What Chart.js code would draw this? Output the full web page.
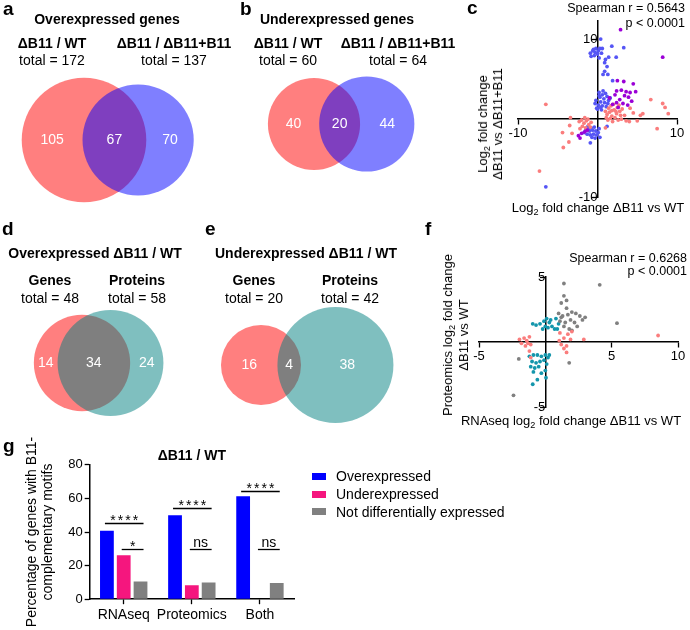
<!DOCTYPE html>
<html>
<head>
<meta charset="utf-8">
<script src="https://cdn.jsdelivr.net/npm/chart.js@4.4.1/dist/chart.umd.min.js"></script>
<style>
body { margin: 0; background: #fff; }
#fig { position: relative; width: 690px; height: 630px; overflow: hidden; font-family: Arial, "Liberation Sans", sans-serif; color: #000; }
canvas { position: absolute; }
.t { position: absolute; white-space: nowrap; line-height: 1; }
.v { position: absolute; white-space: nowrap; text-align: center; transform: translate(-50%, -50%) rotate(-90deg); }
sub { font-size: 0.7em; line-height: 0; vertical-align: -0.3em; }
</style>
</head>
<body>
<div id="fig">
  <canvas id="venn" width="460" height="430" style="left:0;top:0"></canvas>
  <canvas id="scC" width="220" height="200" style="left:470px;top:10px"></canvas>
  <canvas id="scF" width="230" height="175" style="left:460px;top:250px"></canvas>
  <canvas id="bars" width="300" height="230" style="left:0;top:400px"></canvas>
</div>
<script>
// ---- data ----
// venn panels a, b, d, e
const vennTitles = ['Overexpressed genes', 'Underexpressed genes', 'Overexpressed ΔB11 / WT', 'Underexpressed ΔB11 / WT'];
const vennLeftNames = ['ΔB11 / WT', 'ΔB11 / WT', 'Genes', 'Genes'];
const vennRightNames = ['ΔB11 / ΔB11+B11', 'ΔB11 / ΔB11+B11', 'Proteins', 'Proteins'];
const vennLeftTotal = [172, 60, 48, 20];
const vennRightTotal = [137, 64, 58, 42];
const vennOverlap = [67, 20, 34, 4];

// panel c: log2 FC dB11 vs WT (x) against dB11 vs dB11+B11 (y)
const cBlue = [[0.4,10.1],[-0.9,8.3],[-0.6,8.6],[-0.2,8.9],[0.1,8.6],[0.3,8.9],[-0.4,8.0],[-0.8,7.9],[0.5,8.3],[0.2,7.7],
  [-0.5,8.8],[0.0,8.2],[0.6,8.9],[-0.3,8.4],[1.8,9.2],[3.3,9.0],[2.35,7.8],[1.4,7.8],[1.0,7.5],[0.9,7.1],[1.2,6.6],
  [0.7,5.6],[1.3,5.6],[1.9,4.8],[0.9,6.0],
  [0.2,3.3],[0.6,3.0],[1.0,3.2],[0.3,2.7],[0.8,2.5],[1.2,2.8],[-0.2,2.3],[0.4,2.1],[0.9,2.0],[1.4,2.3],[0.1,1.7],
  [0.6,1.6],[1.1,1.5],[-0.1,1.3],[0.5,1.1],[1.6,2.6],[0.2,2.9],[0.7,3.5],[1.3,1.9],[-0.3,1.9],[0.0,1.2],[0.4,1.4],
  [-1.2,-1.0],[-0.8,-1.2],[-0.4,-1.1],[-1.5,-1.5],[-1.0,-1.6],[-0.6,-1.5],[-0.2,-1.6],[-1.3,-2.0],[-0.9,-2.1],
  [-0.5,-2.0],[0.1,-1.8],[-1.7,-1.8],[-0.7,-2.4],[-0.3,-2.5],[0.3,-2.4],[-0.9,-3.1],[-1.1,-1.3],[0.2,-1.3],
  [-6.5,-8.7],[1.2,-1.0],[-0.1,-2.1]];
const cPurple = [[2.9,11.3],[8.2,7.8],[2.5,4.8],[3.3,4.7],[4.5,4.4],[2.4,3.5],[3.0,3.6],[3.6,3.4],[4.1,3.3],[4.8,3.4],
  [2.2,3.0],[3.4,2.9],[3.9,2.7],[2.8,2.4],[4.3,2.2],[2.4,2.0],[3.2,1.9],[1.9,1.8],[3.8,1.7],[2.6,1.4],[1.5,2.6],
  [-2.4,-2.2],[-2.0,-1.9],[-1.6,-1.7],[-1.3,-1.5],[-2.2,-2.5]];
const cSalmon = [[1.2,0.5],[1.5,0.8],[1.8,0.3],[2.1,1.1],[1.4,1.3],[2.4,0.6],[2.8,0.9],[1.7,1.6],[2.2,0.1],[3.1,1.2],
  [1.1,0.1],[2.6,-0.2],[1.9,-0.4],[3.4,0.4],[2.0,1.8],[1.3,-0.2],[2.5,1.4],[3.0,-0.1],[1.6,0.0],[2.3,0.9],[2.9,0.4],
  [1.0,0.9],[3.6,-0.3],[2.7,1.7],[1.8,1.0],
  [-6.5,1.8],[-3.4,0.1],[-3.5,-0.9],[-4.4,-1.8],[-3.2,-1.9],[-4.3,-3.7],[-7.3,-6.7],[6.7,2.4],[8.2,1.9],[8.5,1.4],
  [8.9,0.6],[7.5,-1.3],[5.7,0.6],[5.4,0.4],[4.1,1.3],[4.5,0.7],[-3.6,-3.0],[4.0,-0.4],[1.0,-1.2],[5.0,-0.3],
  [-2.3,-0.4],[-2.0,-0.2],[-1.7,-0.6],[-1.4,-0.3],[-1.1,-0.8],[-0.8,-0.5],[-1.9,-1.0],[-1.5,-1.2],[-1.2,-0.1],
  [-0.9,-1.1],[-2.2,-1.3],[-1.6,0.1]];
const cTicksX = [-10, 10];
const cTicksY = [-10, 10];

// panel f: RNAseq (x) against proteomics (y)
const fGray = [[1.4,4.5],[4.1,4.4],[1.4,3.55],[1.6,3.2],[1.2,3.0],[1.6,2.6],[1.0,2.2],[1.3,2.0],[1.7,2.1],[2.0,2.3],
  [2.3,2.2],[2.6,2.0],[1.1,1.6],[1.5,1.5],[1.9,1.7],[2.2,1.5],[2.8,1.7],[1.4,1.2],[1.8,1.0],[2.4,1.2],[1.2,1.9],
  [5.4,1.45],[1.8,-1.6],[-2.0,-1.3],[-2.4,-4.1],[3.0,1.9],[2.0,0.9]];
const fTeal = [[-0.95,1.4],[-0.7,1.3],[-0.4,1.4],[-0.1,1.6],[0.1,1.8],[0.3,1.5],[0.5,1.2],[0.2,1.1],[0.7,1.0],[0.9,1.0],
  [0.0,1.2],[0.8,1.8],[0.4,1.7],[-0.2,1.0],[1.0,1.4],
  [-1.2,-1.1],[-0.9,-1.0],[-0.6,-1.0],[-0.3,-1.1],[0.0,-1.0],[0.2,-1.2],[-1.0,-1.5],[-0.7,-1.6],[-0.4,-1.5],
  [-0.1,-1.4],[-1.1,-1.9],[-0.8,-2.0],[-0.5,-1.9],[0.1,-1.7],[-0.6,-2.9],[-0.95,-3.25],[0.05,-2.75],[-0.3,-2.4],
  [-0.9,-2.3],[0.0,-2.2],[0.3,-1.0]];
const fSalmon = [[-1.95,0.2],[-1.8,-0.1],[-1.6,0.3],[-1.4,0.1],[-1.2,0.4],[-1.1,-0.2],[-1.5,-0.3],[-1.3,-0.1],
  [-1.2,-0.7],[-1.1,-1.2],[1.1,0.7],[1.4,0.3],[1.7,0.6],[2.0,0.8],[1.2,-0.2],[1.6,-0.3],[1.9,0.2],[1.4,-0.5],
  [2.9,0.2],[8.5,0.5],[1.05,0.1],[1.6,-0.8]];
const fTicksX = [-5, 5, 10];
const fTicksY = [-5, 5];

// panel g
const barCategories = ['RNAseq', 'Proteomics', 'Both'];
const barSeries = ['Overexpressed', 'Underexpressed', 'Not differentially expressed'];
const barOver = [40.7, 49.9, 61.3];
const barUnder = [26.1, 8.3, 0];
const barNot = [10.6, 10.0, 9.6];
const barTicks = [0, 20, 40, 60, 80];
const sigCategory = [0, 0, 1, 1, 2, 2];
const sigFrom = [0, 1, 0, 1, 0, 1];
const sigTo = [2, 2, 2, 2, 2, 2];
const sigLevel = [45.2, 29.7, 54.4, 29.7, 64.7, 29.7];
const sigText = ['****', '*', '****', 'ns', '****', 'ns'];

// ---- styling / layout ----
const FONT = 'Arial, "Liberation Sans", sans-serif';
Chart.defaults.font.family = FONT;
Chart.defaults.color = '#000';

const vennScale = [4.75, 5.95, 6.95, 8.95];        // px per sqrt(count)
const vennAnchor = [[84, 140], [314, 124], [82, 363], [261, 365]]; // left circle centre
const vennLeftColor = ['rgba(255,0,0,0.5)', 'rgba(255,0,0,0.5)', 'rgba(255,0,0,0.5)', 'rgba(255,0,0,0.5)'];
const vennRightColor = ['rgba(0,0,255,0.5)', 'rgba(0,0,255,0.5)', 'rgba(0,128,128,0.5)', 'rgba(0,128,128,0.5)'];
const barColors = ['#0000ff', '#f5167e', '#808080'];

const fig = document.getElementById('fig');
function txt(html, x, base, size, align, bold) {
  const d = document.createElement('div');
  d.className = 't';
  d.innerHTML = html;
  d.style.fontSize = size + 'px';
  if (bold) d.style.fontWeight = 'bold';
  d.style.top = (base - 0.8465 * size) + 'px';
  if (align === 'right') d.style.right = (690 - x) + 'px';
  else {
    d.style.left = x + 'px';
    if (align === 'center') d.style.transform = 'translateX(-50%)';
  }
  fig.appendChild(d);
}
function vtxt(lines, cx, cy, size, lh) {
  const d = document.createElement('div');
  d.className = 'v';
  d.innerHTML = lines.join('<br>');
  d.style.fontSize = size + 'px';
  d.style.lineHeight = lh + 'px';
  d.style.left = cx + 'px';
  d.style.top = cy + 'px';
  fig.appendChild(d);
}

// panel letters
txt('a', 3, 15, 19, 'left', true);
txt('b', 240, 15, 19, 'left', true);
txt('c', 467, 14, 19, 'left', true);
txt('d', 2, 235, 19, 'left', true);
txt('e', 205, 235, 19, 'left', true);
txt('f', 425, 235, 19, 'left', true);
txt('g', 3, 452, 19, 'left', true);

// venn headers
const titlePos = [[107, 24], [337, 24], [95, 258], [306, 258]];
const leftNameX = [52, 288, 50, 254];
const rightNameX = [174, 398, 137, 350];
const nameBase = [48, 48, 285, 285];
const totalBase = [65, 65, 303, 303];
vennTitles.forEach((t, i) => {
  txt(t, titlePos[i][0], titlePos[i][1], 14, 'center', true);
  txt(vennLeftNames[i], leftNameX[i], nameBase[i], 14, 'center', true);
  txt('total = ' + vennLeftTotal[i], leftNameX[i], totalBase[i], 14, 'center');
  txt(vennRightNames[i], rightNameX[i], nameBase[i], 14, 'center', true);
  txt('total = ' + vennRightTotal[i], rightNameX[i], totalBase[i], 14, 'center');
});

// ---- venn geometry (area proportional) ----
function lens(r1, r2, d) {
  if (d >= r1 + r2) return 0;
  if (d <= Math.abs(r1 - r2)) return Math.PI * Math.min(r1, r2) ** 2;
  const a = r1 * r1 * Math.acos((d * d + r1 * r1 - r2 * r2) / (2 * d * r1));
  const b = r2 * r2 * Math.acos((d * d + r2 * r2 - r1 * r1) / (2 * d * r2));
  const c = 0.5 * Math.sqrt((-d + r1 + r2) * (d + r1 - r2) * (d - r1 + r2) * (d + r1 + r2));
  return a + b - c;
}
function centreDistance(r1, r2, target) {
  let lo = Math.abs(r1 - r2), hi = r1 + r2;
  for (let k = 0; k < 60; k++) {
    const mid = (lo + hi) / 2;
    if (lens(r1, r2, mid) > target) lo = mid; else hi = mid;
  }
  return (lo + hi) / 2;
}
const leftCircles = [], rightCircles = [];
vennLeftTotal.forEach((n1, i) => {
  const n2 = vennRightTotal[i];
  const r1 = vennScale[i] * Math.sqrt(n1);
  const r2 = vennScale[i] * Math.sqrt(n2);
  const d = centreDistance(r1, r2, Math.PI * r1 * r1 * vennOverlap[i] / n1);
  leftCircles.push({x: vennAnchor[i][0], y: vennAnchor[i][1], r: r1});
  rightCircles.push({x: vennAnchor[i][0] + d, y: vennAnchor[i][1], r: r2});
});

const vennNumbers = {
  id: 'vennNumbers',
  afterDatasetsDraw(chart) {
    const ctx = chart.ctx;
    const L = chart.getDatasetMeta(0).data, R = chart.getDatasetMeta(1).data;
    ctx.save();
    ctx.fillStyle = '#fff';
    ctx.font = '14px ' + FONT;
    ctx.textAlign = 'center';
    ctx.textBaseline = 'middle';
    L.forEach((a, i) => {
      const b = R[i];
      const ra = a.options.radius, rb = b.options.radius;
      const aL = a.x - ra, aR = a.x + ra, bL = b.x - rb, bR = b.x + rb;
      ctx.fillText(String(vennLeftTotal[i] - vennOverlap[i]), (aL + bL) / 2, a.y);
      ctx.fillText(String(vennOverlap[i]), (bL + aR) / 2, a.y);
      ctx.fillText(String(vennRightTotal[i] - vennOverlap[i]), (aR + bR) / 2, a.y);
    });
    ctx.restore();
  }
};

new Chart(document.getElementById('venn'), {
  type: 'bubble',
  data: {
    datasets: [
      {data: leftCircles, backgroundColor: vennLeftColor, borderWidth: 0, order: 2, clip: false},
      {data: rightCircles, backgroundColor: vennRightColor, borderWidth: 0, order: 1, clip: false}
    ]
  },
  options: {
    responsive: false, animation: false, events: [],
    layout: {padding: 0, autoPadding: false},
    plugins: {legend: {display: false}, tooltip: {enabled: false}},
    scales: {
      x: {type: 'linear', min: 0, max: 460, display: false},
      y: {type: 'linear', min: 0, max: 430, reverse: true, display: false}
    }
  },
  plugins: [vennNumbers]
});

// ---- scatter panels ----
function pts(arr) { return arr.map(p => ({x: p[0], y: p[1]})); }
function axis(min, max, ticks, pos) {
  return {
    type: 'linear', min: min, max: max, position: pos,
    afterBuildTicks: ax => { ax.ticks = ticks.map(v => ({value: v})); },
    grid: {drawOnChartArea: false, color: '#000', tickLength: 5, tickWidth: 1.3},
    border: {color: '#000', width: 1.5},
    ticks: {font: {size: 13}, color: '#000', padding: 2, autoSkip: false, maxRotation: 0}
  };
}
function scatter(id, sets, xr, yr, xt, yt, pad) {
  new Chart(document.getElementById(id), {
    type: 'scatter',
    data: {
      datasets: sets.map(s => ({data: pts(s[0]), backgroundColor: s[1], pointRadius: 1.9, borderWidth: 0}))
    },
    options: {
      responsive: false, animation: false, events: [],
      layout: {padding: pad, autoPadding: false},
      plugins: {legend: {display: false}, tooltip: {enabled: false}},
      scales: {
        x: axis(xr[0], xr[1], xt, {y: 0}),
        y: axis(yr[0], yr[1], yt, {x: 0})
      }
    }
  });
}
scatter('scC', [[cPurple, 'rgb(155,0,215)'], [cSalmon, 'rgb(250,125,125)'], [cBlue, 'rgb(85,85,245)']],
  [-10, 10], [-10, 12.4], cTicksX, cTicksY, {left: 48, right: 13, top: 11, bottom: 13});
scatter('scF', [[fSalmon, 'rgb(250,125,125)'], [fGray, 'rgb(128,128,128)'], [fTeal, 'rgb(20,150,172)']],
  [-5, 10], [-5, 5], fTicksX, fTicksY, {left: 19, right: 12, top: 27, bottom: 18});

txt('Spearman r = 0.5643', 685, 12.7, 12.5, 'right');
txt('p &lt; 0.0001', 685, 27.3, 12.5, 'right');
txt('Log<sub>2</sub> fold change ΔB11 vs WT', 598, 212.5, 13, 'center');
vtxt(['Log<sub>2</sub> fold change', 'ΔB11 vs ΔB11+B11'], 490, 124, 13, 15);

txt('Spearman r = 0.6268', 687, 262.7, 12.5, 'right');
txt('p &lt; 0.0001', 687, 276, 12.5, 'right');
txt('RNAseq log<sub>2</sub> fold change ΔB11 vs WT', 571, 425, 13, 'center');
vtxt(['Proteomics log<sub>2</sub> fold change', 'ΔB11 vs WT'], 455.5, 335, 13, 16);

// ---- bar panel ----
const sigPlugin = {
  id: 'sig',
  afterDatasetsDraw(chart) {
    const ctx = chart.ctx, y = chart.scales.y;
    ctx.save();
    ctx.strokeStyle = '#000';
    ctx.fillStyle = '#000';
    ctx.lineWidth = 1.3;
    ctx.textAlign = 'center';
    ctx.textBaseline = 'alphabetic';
    ctx.font = '14px ' + FONT;
    sigText.forEach((t, k) => {
      const a = chart.getDatasetMeta(sigFrom[k]).data[sigCategory[k]];
      const b = chart.getDatasetMeta(sigTo[k]).data[sigCategory[k]];
      const x1 = a.x - 2, x2 = b.x + 3;
      const py = Math.round(y.getPixelForValue(sigLevel[k])) + 0.5;
      ctx.beginPath(); ctx.moveTo(x1, py); ctx.lineTo(x2, py); ctx.stroke();
      const star = t.indexOf('*') >= 0;
      ctx.letterSpacing = star ? '2px' : '0px';
      const m = ctx.measureText(t);
      ctx.fillText(t, (x1 + x2) / 2 + (star ? 1 : 0), py - 3 - m.actualBoundingBoxDescent);
    });
    ctx.restore();
  }
};
const barValues = [barOver, barUnder, barNot];
new Chart(document.getElementById('bars'), {
  type: 'bar',
  data: {
    labels: barCategories,
    datasets: barSeries.map((name, i) => ({
      label: name, data: barValues[i], backgroundColor: barColors[i], borderWidth: 0,
      categoryPercentage: 0.74, barPercentage: 0.82
    }))
  },
  options: {
    responsive: false, animation: false, events: [],
    layout: {padding: {left: 24, right: 6, top: 42, bottom: 3}, autoPadding: false},
    plugins: {
      legend: {display: false}, tooltip: {enabled: false},
      title: {display: true, fullSize: false, text: 'ΔB11 / WT', font: {size: 14, weight: 'bold'}, color: '#000', padding: {top: 6, bottom: 0}}
    },
    scales: {
      x: {
        grid: {offset: false, drawOnChartArea: false, color: '#000', tickLength: 5, tickWidth: 1.3},
        border: {color: '#000', width: 1.5},
        ticks: {font: {size: 14}, color: '#000', padding: 3, autoSkip: false, maxRotation: 0, minRotation: 0}
      },
      y: {
        min: 0, max: 80,
        afterBuildTicks: ax => { ax.ticks = barTicks.map(v => ({value: v})); },
        grid: {drawOnChartArea: false, color: '#000', tickLength: 5, tickWidth: 1.3},
        border: {color: '#000', width: 1.5},
        ticks: {font: {size: 13}, color: '#000', padding: 2},
        title: {display: true, text: ['Percentage of genes with B11-', 'complementary motifs'], font: {size: 14, lineHeight: 1.15}, color: '#000', padding: {top: 0, bottom: 10}}
      }
    }
  },
  plugins: [sigPlugin]
});

// legend for g
const legendBase = [481, 499, 516.7];
barSeries.forEach((name, i) => {
  const sq = document.createElement('div');
  sq.style.cssText = 'position:absolute;left:312px;width:14px;height:7px;background:' + barColors[i] + ';top:' + (legendBase[i] - 8.5) + 'px';
  fig.appendChild(sq);
  txt(name, 336, legendBase[i], 14, 'left');
});
</script>
</body>
</html>
